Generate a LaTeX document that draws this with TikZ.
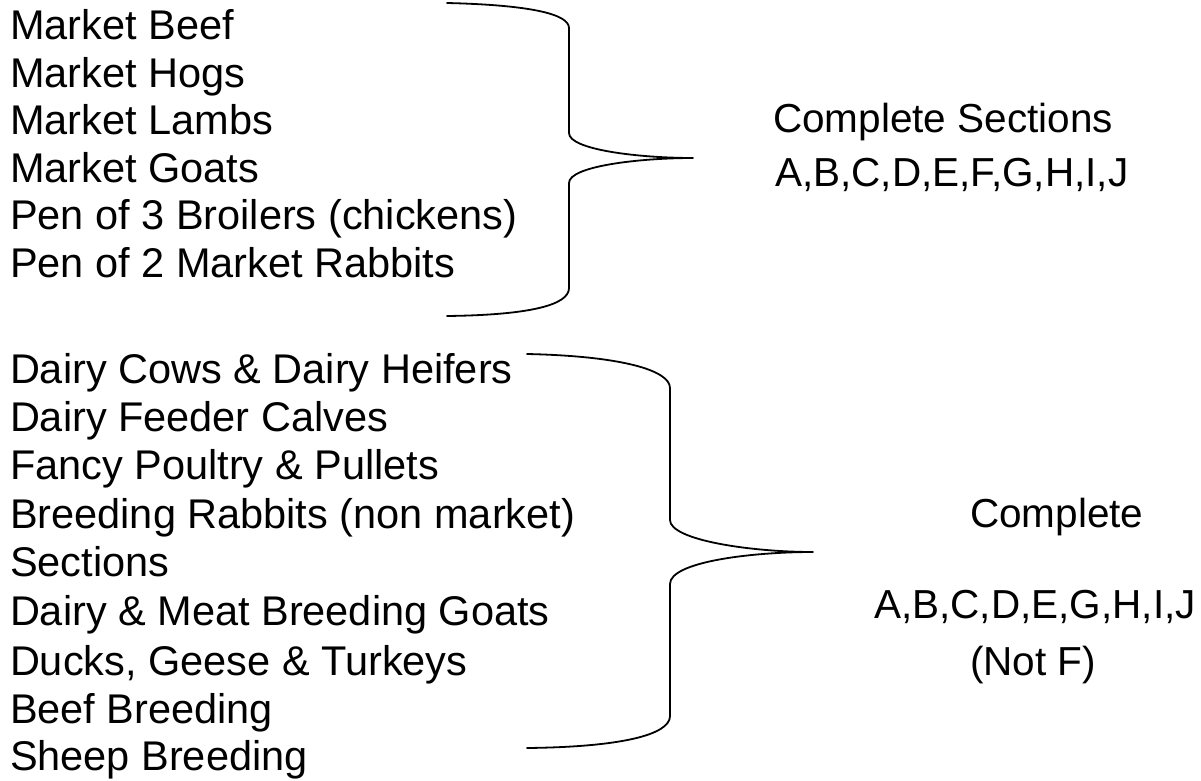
\documentclass[tikz,border=0pt]{standalone}
\usepackage{fontspec}
\setmainfont{Liberation Sans}
\begin{document}
\begin{tikzpicture}[x=1pt,y=-1pt,
  lbl/.style={anchor=base west,inner sep=0pt,outer sep=0pt,font=\fontsize{41.5}{48}\selectfont},
  rlbl/.style={lbl,font=\fontsize{40.5}{48}\selectfont},
  bracestroke/.style={line width=1.8pt,line join=round,line cap=round}]
\useasboundingbox (0,0) rectangle (1201,781);
% first group
\node[lbl] (m1) at (10,40) {Market Beef};
\node[lbl] (m2) at (10,87.5) {Market Hogs};
\node[lbl] (m3) at (10,135) {Market Lambs};
\node[lbl] (m4) at (10,182) {Market Goats};
\node[lbl] (m5) at (10,229) {Pen of 3 Broilers (chickens)};
\node[lbl] (m6) at (10,277) {Pen of 2 Market Rabbits};
\node[rlbl] (r1) at (773,132) {Complete Sections};
\node[rlbl] (r2) at (775,186) {A,B,C,D,E,F,G,H,I,J};
% second group
\node[lbl] (d1) at (10,383) {Dairy Cows \& Dairy Heifers};
\node[lbl] (d2) at (10,431) {Dairy Feeder Calves};
\node[lbl] (d3) at (10,479) {Fancy Poultry \& Pullets};
\node[lbl] (d4) at (10,528) {Breeding Rabbits (non market)};
\node[lbl] (d5) at (10,576) {Sections};
\node[lbl] (d6) at (10,625) {Dairy \& Meat Breeding Goats};
\node[lbl] (d7) at (10,675) {Ducks, Geese \& Turkeys};
\node[lbl] (d8) at (10,723) {Beef Breeding};
\node[lbl] (d9) at (10,770) {Sheep Breeding};
\node[rlbl] (s1) at (970,527) {Complete};
\node[rlbl] (s2) at (874,618) {A,B,C,D,E,G,H,I,J};
\node[rlbl] (s3) at (970,675) {(Not F)};
% brace 1
\draw[bracestroke] (447,3) .. controls (530,5) and (569,14) .. (569,28)
  -- (569,133) .. controls (569,150) and (640,158) .. (693,158)
  .. controls (640,158) and (569,166) .. (569,183)
  -- (569,288) .. controls (569,305) and (530,315) .. (447,316);
% brace 2
\draw[bracestroke] (527,354) .. controls (620,356) and (670,370) .. (670,388)
  -- (670,520) .. controls (670,540) and (750,552) .. (813,552)
  .. controls (750,552) and (670,562) .. (670,584)
  -- (670,716) .. controls (670,735) and (620,747) .. (527,748);
\end{tikzpicture}
\end{document}
